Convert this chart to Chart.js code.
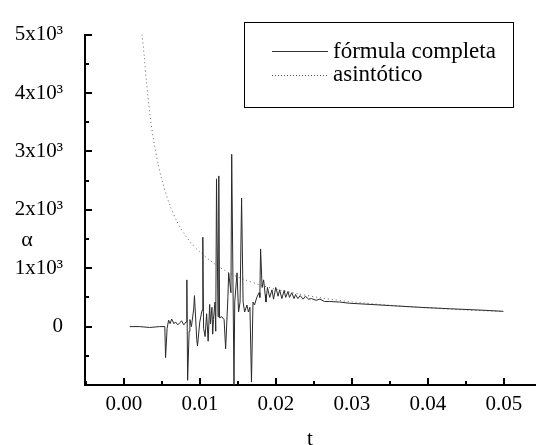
<!DOCTYPE html>
<html>
<head>
<meta charset="utf-8">
<script src="https://cdn.jsdelivr.net/npm/chart.js@4"></script>
<style>
  html, body { margin: 0; padding: 0; background: white; }
  #wrap { width: 536px; height: 445px; }
</style>
</head>
<body>
<div id="wrap"><canvas id="myChart"></canvas></div>
<script>
// DATOS: FORMULA COMPLETA
const tCompleta = [0.0008, 0.0021, 0.0034, 0.0047, 0.0054, 0.0055, 0.0057, 0.0059, 0.0061, 0.0063,
  0.0066, 0.0068, 0.0071, 0.0074, 0.0076, 0.0079, 0.0082, 0.0083, 0.0084, 0.0086,
  0.0087, 0.0089, 0.0092, 0.0093, 0.0096, 0.0097, 0.0100, 0.0103, 0.0104, 0.0105,
  0.0107, 0.0109, 0.0111, 0.0113, 0.0114, 0.0116, 0.0117, 0.0118, 0.0120, 0.0121,
  0.0122, 0.0124, 0.0125, 0.0126, 0.0129, 0.0132, 0.0134, 0.0137, 0.0138, 0.0141,
  0.0142, 0.0145, 0.0146, 0.0149, 0.0151, 0.0153, 0.0155, 0.0157, 0.0159, 0.0162,
  0.0164, 0.0166, 0.0168, 0.0170, 0.0172, 0.0175, 0.0178, 0.0179, 0.0180, 0.0182,
  0.0184, 0.0186, 0.0187, 0.0189, 0.0192, 0.0195, 0.0197, 0.0200, 0.0203, 0.0205,
  0.0208, 0.0211, 0.0213, 0.0216, 0.0218, 0.0221, 0.0224, 0.0226, 0.0229, 0.0232,
  0.0236, 0.0239, 0.0243, 0.0247, 0.0253, 0.0258, 0.0264, 0.0271, 0.0284, 0.0297,
  0.0324, 0.0350, 0.0390, 0.0430, 0.0470, 0.0499];
const alphaCompleta = [0, 0, -15, 0, 0, -530, -30, 110, 50, 130,
  50, 80, 30, 70, 100, 30, 80, 800, -920, -80,
  120, 0, 300, 530, -220, -330, 80, 280, 1530, -30,
  -170, 220, -250, 380, 50, 330, -130, 120, 420, -80,
  2530, 170, 2580, 150, 170, 120, -380, 500, 920, 580,
  2950, -1000, 420, 920, 250, 420, 2200, 420, 250, 370,
  250, 330, -950, 420, 370, 500, 580, 500, 1330, 670,
  800, 550, 420, 670, 500, 630, 470, 670, 520, 630,
  480, 620, 500, 600, 500, 580, 480, 550, 480, 530,
  470, 520, 470, 480, 450, 470, 430, 430, 420, 400,
  380, 360, 330, 305, 282, 262];

// DATOS: ASINTOTICO
const tAsintotico = [0.0024, 0.0027, 0.0030, 0.0035, 0.0040, 0.0045, 0.0050, 0.0060, 0.0070, 0.0080,
  0.0090, 0.0100, 0.0120, 0.0140, 0.0160, 0.0180, 0.0200, 0.0230, 0.0260, 0.0300,
  0.0350, 0.0400, 0.0450, 0.0500];
const alphaAsintotico = [5000, 4620, 4170, 3570, 3130, 2800, 2520, 2100, 1800, 1580,
  1410, 1280, 1070, 910, 800, 710, 640, 560, 490, 425,
  365, 320, 285, 258];

// ETIQUETAS DE LOS EJES
const xMajor = [0, 0.01, 0.02, 0.03, 0.04, 0.05];
const xMinor = [-0.005, 0.005, 0.015, 0.025, 0.035, 0.045];
const yMajor = [0, 1000, 2000, 3000, 4000, 5000];
const yMinor = [-500, 500, 1500, 2500, 3500, 4500];
const serieNombres = ["fórmula completa", "asintótico"];

const fuente = "Liberation Serif";
const tam = 21;

function toPoints(xs, ys) {
  return xs.map((x, i) => ({ x: x, y: ys[i] }));
}

// MARCAS DE LOS EJES, TITULO ALFA Y LEYENDA
const extras = {
  id: "extras",
  afterDraw(chart) {
    const ctx = chart.ctx;
    const xs = chart.scales.x;
    const ys = chart.scales.y;
    const area = chart.chartArea;
    ctx.save();
    ctx.strokeStyle = "#000";
    ctx.lineWidth = 2;
    ctx.beginPath();
    xMajor.forEach(v => {
      const px = Math.round(xs.getPixelForValue(v));
      ctx.moveTo(px, area.bottom); ctx.lineTo(px, area.bottom - 7);
    });
    xMinor.forEach(v => {
      const px = Math.round(xs.getPixelForValue(v));
      ctx.moveTo(px, area.bottom); ctx.lineTo(px, area.bottom - 4);
    });
    yMajor.forEach(v => {
      const py = Math.round(ys.getPixelForValue(v));
      ctx.moveTo(area.left, py); ctx.lineTo(area.left + 7, py);
    });
    yMinor.forEach(v => {
      const py = Math.round(ys.getPixelForValue(v));
      ctx.moveTo(area.left, py); ctx.lineTo(area.left + 4, py);
    });
    ctx.stroke();

    // alfa
    ctx.fillStyle = "#000";
    ctx.font = "22px '" + fuente + "'";
    ctx.textAlign = "center";
    ctx.textBaseline = "middle";
    ctx.fillText("α", 27, 240);

    // leyenda
    ctx.font = "23px '" + fuente + "'";
    ctx.lineWidth = 1;
    ctx.strokeRect(244.5, 22.5, 269, 85);
    ctx.textAlign = "left";
    ctx.textBaseline = "alphabetic";
    ctx.strokeStyle = "#333";
    ctx.beginPath();
    ctx.moveTo(272, 51.5); ctx.lineTo(328, 51.5);
    ctx.stroke();
    ctx.strokeStyle = "#555";
    ctx.setLineDash([1, 2]);
    ctx.beginPath();
    ctx.moveTo(272, 75.5); ctx.lineTo(328, 75.5);
    ctx.stroke();
    ctx.setLineDash([]);
    ctx.fillText(serieNombres[0], 333, 58);
    ctx.fillText(serieNombres[1], 333, 81);
    ctx.restore();
  }
};

const config = {
  type: "scatter",
  data: {
    datasets: [
      {
        label: serieNombres[0],
        data: toPoints(tCompleta, alphaCompleta),
        showLine: true,
        borderColor: "#2a2a2a",
        borderWidth: 1,
        pointRadius: 0,
        tension: 0
      },
      {
        label: serieNombres[1],
        data: toPoints(tAsintotico, alphaAsintotico),
        showLine: true,
        borderColor: "#666",
        borderWidth: 1,
        borderDash: [1, 3],
        pointRadius: 0,
        tension: 0.3
      }
    ]
  },
  options: {
    responsive: true,
    maintainAspectRatio: false,
    animation: false,
    layout: { padding: { top: 23, right: 1, left: 0, bottom: 0 } },
    plugins: { legend: { display: false }, tooltip: { enabled: false } },
    scales: {
      x: {
        type: "linear",
        min: -0.0051,
        max: 0.0541,
        grid: { display: false, drawTicks: false },
        border: { display: true, color: "#000", width: 2 },
        afterBuildTicks: (s) => { s.ticks = xMajor.map(v => ({ value: v })); },
        afterFit: (s) => { s.height = 60; },
        ticks: {
          color: "#000",
          padding: 7,
          maxRotation: 0,
          font: { family: fuente, size: tam },
          callback: (v) => v.toFixed(2)
        },
        title: {
          display: true,
          text: "t",
          color: "#000",
          font: { family: fuente, size: tam, lineHeight: 1 },
          padding: { top: 0, bottom: -5 }
        }
      },
      y: {
        type: "linear",
        min: -1000,
        max: 5000,
        grid: { display: false, drawTicks: false },
        border: { display: true, color: "#000", width: 2 },
        afterBuildTicks: (s) => { s.ticks = yMajor.map(v => ({ value: v })); },
        afterFit: (s) => { s.width = 85; },
        ticks: {
          color: "#000",
          padding: 22,
          font: { family: fuente, size: tam },
          callback: (v) => v === 0 ? "0" : (v / 1000) + "x10³"
        }
      }
    }
  },
  plugins: [extras]
};

const myChart = document.getElementById("myChart");
window.grafica = new Chart(myChart, config);
</script>
</body>
</html>
